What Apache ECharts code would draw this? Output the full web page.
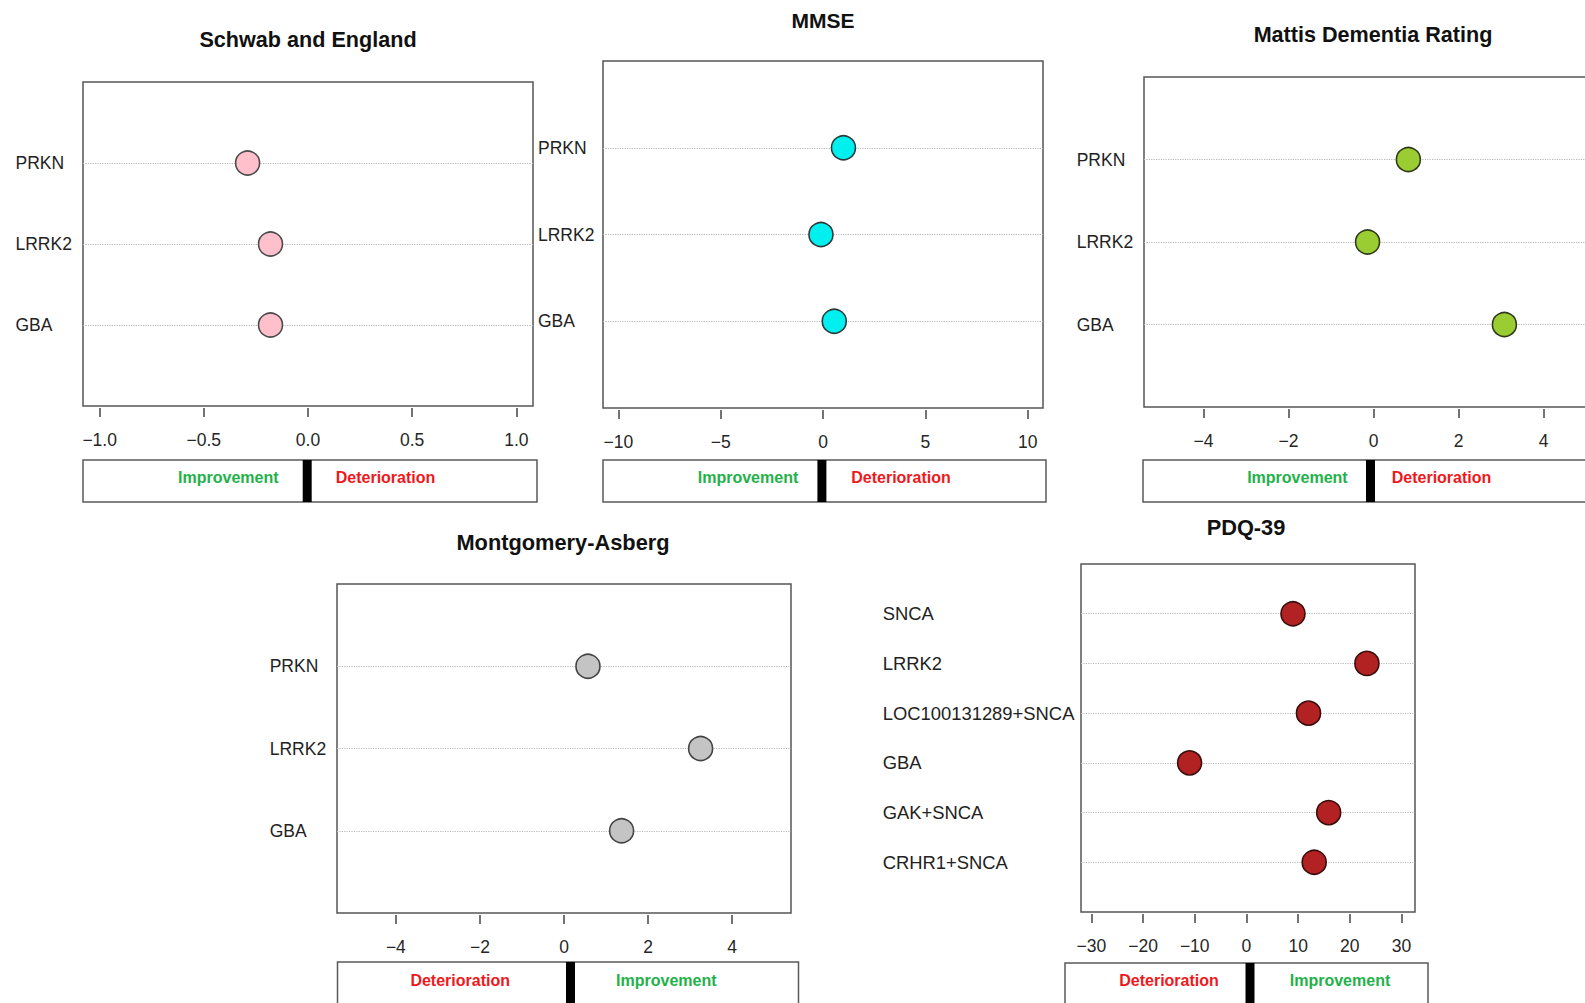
<!DOCTYPE html>
<html>
<head>
<meta charset="utf-8">
<title>Score change by genotype</title>
<script src="https://cdn.jsdelivr.net/npm/echarts@6/dist/echarts.min.js"></script>
<style>
  html, body { margin: 0; padding: 0; background: #ffffff; overflow: hidden; width: 1585px; height: 1003px; }
  /* the canvas is a little wider than the page so the right-hand panel runs off the edge */
  #chart { width: 1620px; height: 1003px; }
</style>
</head>
<body>
<div id="chart"></div>
<script>
// ---- data -------------------------------------------------------------
const schwabGenes = ['PRKN', 'LRRK2', 'GBA'];
const schwabValues = [-0.29, -0.18, -0.18];
const schwabTicks = [-1, -0.5, 0, 0.5, 1];

const mmseGenes = ['PRKN', 'LRRK2', 'GBA'];
const mmseValues = [1.0, -0.1, 0.55];
const mmseTicks = [-10, -5, 0, 5, 10];

const mattisGenes = ['PRKN', 'LRRK2', 'GBA'];
const mattisValues = [0.82, -0.14, 3.08];
const mattisTicks = [-4, -2, 0, 2, 4];

const madrsGenes = ['PRKN', 'LRRK2', 'GBA'];
const madrsValues = [0.57, 3.25, 1.37];
const madrsTicks = [-4, -2, 0, 2, 4];

const pdqGenes = ['SNCA', 'LRRK2', 'LOC100131289+SNCA', 'GBA', 'GAK+SNCA', 'CRHR1+SNCA'];
const pdqValues = [9.0, 23.3, 12.0, -11.0, 15.9, 13.1];
const pdqTicks = [-30, -20, -10, 0, 10, 20, 30];

// ---- panel layout and styling ---------------------------------------------
const FONT = '"Liberation Sans", Arial, Helvetica, sans-serif';
const GREEN = '#1fb24a';
const RED = '#f01820';

const panels = [
  { title: 'Schwab and England', genes: schwabGenes, values: schwabValues, ticks: schwabTicks, decimals: 1,
    grid: { left: 83, top: 82, width: 450, height: 324 }, min: -1.08, max: 1.08, labelMargin: 67.5, labelSize: 17.5,
    titlePos: [308, 39.5], titleSize: 21.6, fill: '#ffc0cb', border: '#4a4a4a',
    legend: { x: 83, y: 460, w: 454, h: 42, bar: 307.2, textY: 477.5,
      left: ['Improvement', GREEN, 228.3], right: ['Deterioration', RED, 385.5] } },
  { title: 'MMSE', genes: mmseGenes, values: mmseValues, ticks: mmseTicks, decimals: 0,
    grid: { left: 603, top: 61, width: 440, height: 347 }, min: -10.75, max: 10.75, labelMargin: 65, labelSize: 17.5,
    titlePos: [823, 20.5], titleSize: 21, fill: '#00f0f0', border: '#2c3a3a',
    legend: { x: 603, y: 460, w: 443, h: 42, bar: 821.9, textY: 477.5,
      left: ['Improvement', GREEN, 748], right: ['Deterioration', RED, 901] } },
  { title: 'Mattis Dementia Rating', genes: mattisGenes, values: mattisValues, ticks: mattisTicks, decimals: 0,
    grid: { left: 1144, top: 77, width: 459, height: 330 }, min: -5.4, max: 5.4, labelMargin: 67.3, labelSize: 17.5,
    titlePos: [1373, 34.5], titleSize: 21.6, fill: '#9acd32', border: '#2f3a1c',
    legend: { x: 1143, y: 460, w: 465, h: 42, bar: 1370.5, textY: 477.5,
      left: ['Improvement', GREEN, 1297.4], right: ['Deterioration', RED, 1441.5] } },
  { title: 'Montgomery-Asberg', genes: madrsGenes, values: madrsValues, ticks: madrsTicks, decimals: 0,
    grid: { left: 337, top: 584, width: 454, height: 329 }, min: -5.4, max: 5.4, labelMargin: 67.3, labelSize: 17.5,
    titlePos: [563, 542], titleSize: 21.8, fill: '#c4c4c4', border: '#444444',
    legend: { x: 337.5, y: 962, w: 461, h: 42, bar: 570.5, textY: 980,
      left: ['Deterioration', RED, 460.2], right: ['Improvement', GREEN, 666.3] } },
  { title: 'PDQ-39', genes: pdqGenes, values: pdqValues, ticks: pdqTicks, decimals: 0,
    grid: { left: 1081, top: 564, width: 334, height: 348 }, min: -32, max: 32.6, labelMargin: 198.3, labelSize: 18.4,
    titlePos: [1246, 527], titleSize: 21.8, fill: '#b22222', border: '#3a0d0d',
    legend: { x: 1065, y: 963, w: 363, h: 42, bar: 1250, textY: 980.5,
      left: ['Deterioration', RED, 1169], right: ['Improvement', GREEN, 1340] } }
];

function tickText(v, decimals) {
  const s = Math.abs(v).toFixed(decimals);
  return v < 0 ? '\u2212' + s : s;
}

// ---- build option ------------------------------------------------------
const option = {
  backgroundColor: '#ffffff',
  animation: false,
  title: [],
  grid: [],
  xAxis: [],
  yAxis: [],
  series: [],
  graphic: []
};

panels.forEach((p, i) => {
  option.title.push({
    text: p.title,
    left: p.titlePos[0],
    top: p.titlePos[1],
    padding: 0,
    textAlign: 'center',
    textVerticalAlign: 'middle',
    textStyle: { fontFamily: FONT, fontWeight: 'bold', fontSize: p.titleSize, color: '#111111' }
  });

  option.grid.push(Object.assign({
    show: true,
    borderColor: '#555555',
    borderWidth: 1.5,
    backgroundColor: 'transparent',
    containLabel: false
  }, p.grid));

  option.xAxis.push({
    type: 'value',
    gridIndex: i,
    position: 'bottom',
    min: p.min,
    max: p.max,
    offset: 2,
    axisLine: { show: false, onZero: false },
    splitLine: { show: false },
    axisTick: {
      show: true,
      inside: false,
      length: 9,
      customValues: p.ticks,
      lineStyle: { color: '#444444', width: 1.5 }
    },
    axisLabel: {
      customValues: p.ticks,
      margin: 23,
      fontFamily: FONT,
      fontSize: 17.5,
      color: '#262626',
      formatter: (v) => tickText(v, p.decimals)
    }
  });

  const rows = p.genes.map((g, k) => k + 1);
  option.yAxis.push({
    type: 'value',
    gridIndex: i,
    min: 0,
    max: p.genes.length + 1,
    inverse: true,
    axisLine: { show: false, onZero: false },
    axisTick: { show: false },
    splitLine: { show: false },
    axisLabel: {
      customValues: rows,
      align: 'left',
      margin: p.labelMargin,
      fontFamily: FONT,
      fontSize: p.labelSize,
      color: '#222222',
      formatter: (v) => p.genes[v - 1] || ''
    }
  });

  // dotted guide line behind each row
  option.series.push({
    type: 'scatter',
    xAxisIndex: i,
    yAxisIndex: i,
    data: [],
    silent: true,
    markLine: {
      silent: true,
      symbol: 'none',
      label: { show: false },
      lineStyle: { type: 'dotted', color: '#b8b8b8', width: 1.2 },
      data: rows.map((r) => ({ yAxis: r }))
    }
  });

  option.series.push({
    type: 'scatter',
    name: p.title,
    xAxisIndex: i,
    yAxisIndex: i,
    z: 10,
    symbol: 'circle',
    symbolSize: 24,
    itemStyle: { color: p.fill, borderColor: p.border, borderWidth: 1.6, opacity: 1 },
    data: p.values.map((v, k) => [v, k + 1])
  });

  const L = p.legend;
  option.graphic.push({
    type: 'group',
    children: [
      { type: 'rect', shape: { x: L.x, y: L.y, width: L.w, height: L.h },
        style: { fill: '#ffffff', stroke: '#5a5a5a', lineWidth: 1.5 } },
      { type: 'rect', shape: { x: L.bar - 4.5, y: L.y, width: 9, height: L.h },
        style: { fill: '#000000' } },
      { type: 'text', x: L.left[2], y: L.textY,
        style: { text: L.left[0], fill: L.left[1], font: 'bold 16px ' + FONT, align: 'center', verticalAlign: 'middle' } },
      { type: 'text', x: L.right[2], y: L.textY,
        style: { text: L.right[0], fill: L.right[1], font: 'bold 16px ' + FONT, align: 'center', verticalAlign: 'middle' } }
    ]
  });
});

const chart = echarts.init(document.getElementById('chart'), null, { renderer: 'svg', width: 1620, height: 1003 });
chart.setOption(option);
</script>
</body>
</html>
